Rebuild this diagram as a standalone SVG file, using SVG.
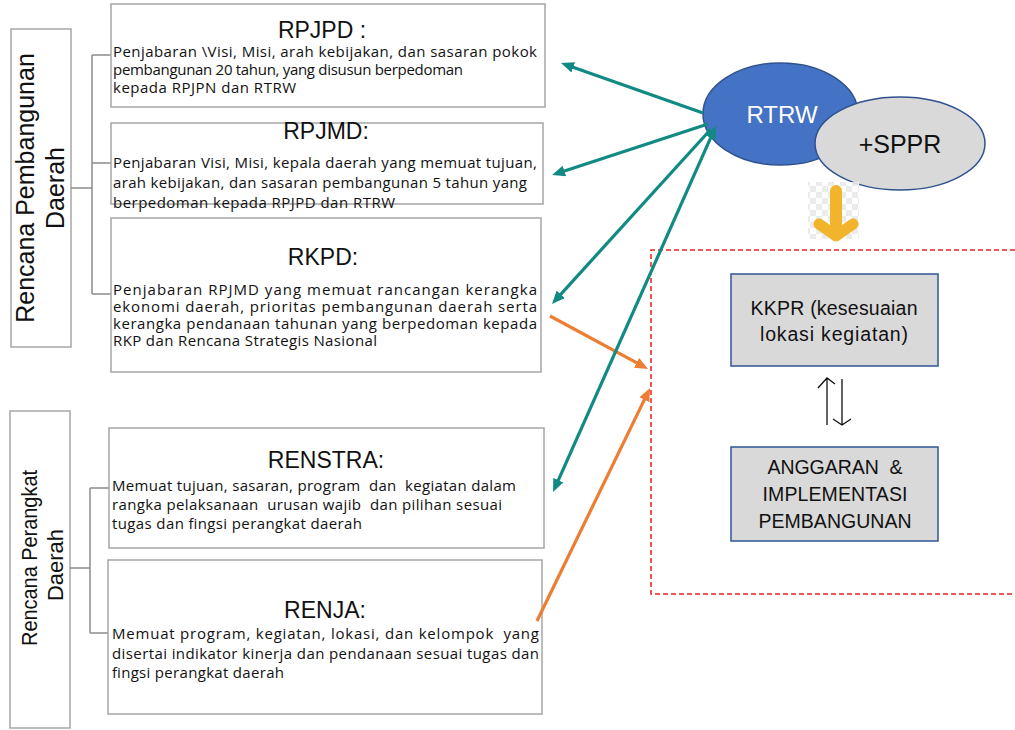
<svg xmlns="http://www.w3.org/2000/svg" width="1015" height="730" viewBox="0 0 1015 730">
<style>
.box{fill:#fff;stroke:#A6A6A6;stroke-width:1.5}
.br{fill:none;stroke:#8C8C8C;stroke-width:1.5}
.ttl{font-family:"Liberation Sans",Arial,sans-serif;font-size:23px;fill:#111;text-anchor:middle}
.bd{font-family:"Open Sans","Liberation Sans",sans-serif;font-size:15px;fill:#111}
.vt{font-family:"Liberation Sans",Arial,sans-serif;fill:#111;text-anchor:middle}
.gb{fill:#D9D9D9;stroke:#2F5597;stroke-width:1.5}
.gt{font-family:"Liberation Sans",Arial,sans-serif;font-size:19.5px;fill:#111;text-anchor:middle}
.teal{fill:none;stroke:#128A84;stroke-width:3.2}
.orng{fill:none;stroke:#ED7D31;stroke-width:3.2}
</style>
<defs>
<marker id="mt" viewBox="0 0 13 11" refX="4" refY="5.5" markerWidth="13" markerHeight="11" markerUnits="userSpaceOnUse" orient="auto-start-reverse"><path d="M0,0 L13,5.5 L0,11 z" fill="#128A84"/></marker>
<marker id="mo" viewBox="0 0 13 11" refX="4" refY="5.5" markerWidth="13" markerHeight="11" markerUnits="userSpaceOnUse" orient="auto-start-reverse"><path d="M0,0 L13,5.5 L0,11 z" fill="#ED7D31"/></marker>
<pattern id="chk" width="12" height="12" patternUnits="userSpaceOnUse"><rect width="12" height="12" fill="#fff"/><rect width="6" height="6" fill="#E9E9E9"/><rect x="6" y="6" width="6" height="6" fill="#E9E9E9"/></pattern>
</defs>

<g id="group-pembangunan">
<rect class="box" x="11" y="29" width="60" height="318"/>
<text class="vt" font-size="25" transform="translate(34,188) rotate(-90)">Rencana Pembangunan</text>
<text class="vt" font-size="25" transform="translate(64,188) rotate(-90)">Daerah</text>
</g>

<g id="group-perangkat">
<rect class="box" x="10" y="411" width="60" height="317"/>
<text class="vt" font-size="22" transform="translate(37,558) rotate(-90)" textLength="176" lengthAdjust="spacingAndGlyphs">Rencana Perangkat</text>
<text class="vt" font-size="22" transform="translate(63,565) rotate(-90)">Daerah</text>
</g>

<g id="brackets">
<path class="br" d="M71,188 H92 M92,55 V294 M92,55 H111 M92,163 H111 M92,294 H111"/>
<path class="br" d="M70,568 H90 M90,488 V633 M90,488 H109 M90,633 H108"/>
</g>

<g id="rpjpd">
<rect class="box" x="111" y="4" width="434" height="103"/>
<text class="ttl" x="322" y="38">RPJPD :</text>
<text class="bd" x="113" y="57" textLength="424">Penjabaran \Visi, Misi, arah kebijakan, dan sasaran pokok</text>
<text class="bd" x="113" y="75" textLength="350">pembangunan 20 tahun, yang disusun berpedoman</text>
<text class="bd" x="113" y="93" textLength="183">kepada RPJPN dan RTRW</text>
</g>

<g id="rpjmd">
<rect class="box" x="111" y="123" width="432" height="81"/>
<text class="ttl" x="326" y="139">RPJMD:</text>
<text class="bd" x="113" y="168" textLength="424">Penjabaran Visi, Misi, kepala daerah yang memuat tujuan,</text>
<text class="bd" x="113" y="188" textLength="414">arah kebijakan, dan sasaran pembangunan 5 tahun yang</text>
<text class="bd" x="113" y="208" textLength="282">berpedoman kepada RPJPD dan RTRW</text>
</g>

<g id="rkpd">
<rect class="box" x="111" y="218" width="430" height="154"/>
<text class="ttl" x="323" y="265">RKPD:</text>
<text class="bd" x="113" y="295" textLength="424">Penjabaran RPJMD yang memuat rancangan kerangka</text>
<text class="bd" x="113" y="312" textLength="424">ekonomi daerah, prioritas pembangunan daerah serta</text>
<text class="bd" x="113" y="329" textLength="424">kerangka pendanaan tahunan yang berpedoman kepada</text>
<text class="bd" x="113" y="346" textLength="264">RKP dan Rencana Strategis Nasional</text>
</g>

<g id="renstra">
<rect class="box" x="109" y="428" width="435" height="120"/>
<text class="ttl" x="326" y="468">RENSTRA:</text>
<text class="bd" x="112" y="491" textLength="404" xml:space="preserve">Memuat tujuan, sasaran, program  dan  kegiatan dalam</text>
<text class="bd" x="112" y="510" textLength="390" xml:space="preserve">rangka pelaksanaan  urusan wajib  dan pilihan sesuai</text>
<text class="bd" x="112" y="529" textLength="250">tugas dan fingsi perangkat daerah</text>
</g>

<g id="renja">
<rect class="box" x="108" y="560" width="434" height="154"/>
<text class="ttl" x="325" y="618">RENJA:</text>
<text class="bd" x="112" y="639" textLength="427" xml:space="preserve">Memuat program, kegiatan, lokasi, dan kelompok  yang</text>
<text class="bd" x="112" y="659" textLength="427">disertai indikator kinerja dan pendanaan sesuai tugas dan</text>
<text class="bd" x="112" y="678" textLength="172">fingsi perangkat daerah</text>
</g>

<g id="rtrw">
<ellipse cx="780.5" cy="114" rx="77.5" ry="51" fill="#4472C4" stroke="#2F528F" stroke-width="1.5"/>
<text x="782" y="123" font-family="Liberation Sans, Arial, sans-serif" font-size="24" fill="#fff" text-anchor="middle">RTRW</text>
</g>

<g id="sppr">
<ellipse cx="900" cy="143.5" rx="85" ry="46.5" fill="#D9D9D9" stroke="#2F528F" stroke-width="1.5"/>
<text x="900" y="153" font-family="Liberation Sans, Arial, sans-serif" font-size="25" fill="#111" text-anchor="middle">+SPPR</text>
</g>

<g id="yellow-arrow">
<rect x="808" y="182" width="51" height="57" fill="url(#chk)" opacity="0.9"/>
<path d="M836,191 V231" fill="none" stroke="#F2B42D" stroke-width="12" stroke-linecap="round"/>
<path d="M819,224 L836,236 L853,224" fill="none" stroke="#F2B42D" stroke-width="11" stroke-linecap="round" stroke-linejoin="round"/>
</g>

<g id="implementation-frame">
<path d="M1015,250 H651 V594 H1015" fill="none" stroke="#F01E1E" stroke-width="1.5" stroke-dasharray="5 3"/>
</g>

<g id="kkpr">
<rect class="gb" x="731" y="274" width="207" height="92"/>
<text class="gt" x="834" y="315" textLength="167">KKPR (kesesuaian</text>
<text class="gt" x="834" y="341" textLength="148">lokasi kegiatan)</text>
</g>

<g id="anggaran">
<rect class="gb" x="731" y="447" width="207" height="94"/>
<text class="gt" x="835" y="474" textLength="135" xml:space="preserve">ANGGARAN  &amp;</text>
<text class="gt" x="835" y="501" textLength="145">IMPLEMENTASI</text>
<text class="gt" x="835" y="528" textLength="153">PEMBANGUNAN</text>
</g>

<g id="connectors">
<path d="M827,425 V379 M818,388 L827,378 L835,384" fill="none" stroke="#111" stroke-width="1.3"/>
<path d="M842,379 V425 M833,419 L842,425 L851,419" fill="none" stroke="#111" stroke-width="1.3"/>
<path class="orng" d="M550,316 L640.1,364.7" marker-end="url(#mo)"/>
<path class="orng" d="M537,621 L646.1,396.1" marker-end="url(#mo)"/>
<path class="teal" d="M703,113 L569.5,66" marker-end="url(#mt)"/>
<path class="teal" d="M708,124 L560.6,172.2" marker-end="url(#mt)"/>
<path class="teal" d="M711,129 L558,297.3" marker-end="url(#mt)"/>
<path class="teal" d="M712.3,134.2 L556.7,483.8" marker-start="url(#mt)" marker-end="url(#mt)"/>
</g>
</svg>
